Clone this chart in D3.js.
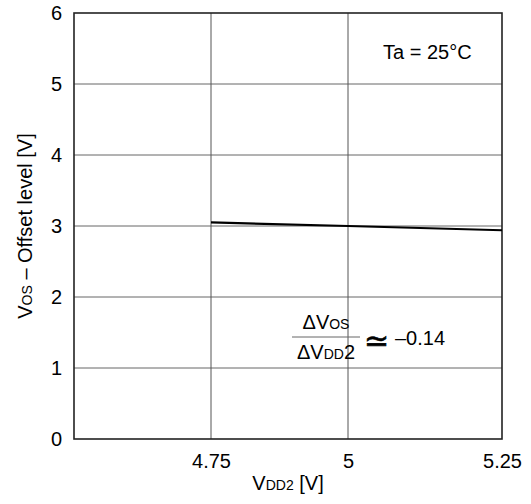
<!DOCTYPE html>
<html><head><meta charset="utf-8">
<script src="https://cdn.jsdelivr.net/npm/d3@7"></script>
<style>body{margin:0;background:#fff}svg{display:block}text{font-family:"Liberation Sans",Arial,sans-serif;fill:#000}</style>
</head><body><svg id="c" width="531" height="504"></svg>
<script>
const xVals = [4.75, 5.0, 5.25];
const yVals = [3.05, 3.0, 2.94];
const xTicks = [4.75, 5, 5.25];
const xTickLabels = ["4.75", "5", "5.25"];
const yTicks = [0, 1, 2, 3, 4, 5, 6];

const svg = d3.select("#c");
const L = 74, R = 502, T = 13, B = 439;
const FONT = "Liberation Sans, Arial, sans-serif";
const x = d3.scaleLinear().domain([4.5, 5.0, 5.25]).range([L, 348, R]);
const y = d3.scaleLinear().domain([0, 6]).range([B, T]);

// grid
svg.append("g").selectAll("line").data(yTicks.slice(1, -1)).join("line")
  .attr("x1", L).attr("x2", R).attr("y1", d => y(d)).attr("y2", d => y(d))
  .attr("stroke", "#666").attr("stroke-width", 1);
svg.append("g").selectAll("line").data(xTicks.slice(0, -1)).join("line")
  .attr("y1", T).attr("y2", B).attr("x1", d => x(d)).attr("x2", d => x(d))
  .attr("stroke", "#555").attr("stroke-width", 1);

// frame
svg.append("rect").attr("x", L).attr("y", T).attr("width", R - L).attr("height", B - T)
  .attr("fill", "none").attr("stroke", "#222").attr("stroke-width", 1.6);

// axes labels via d3 axes
const ya = svg.append("g").attr("transform", `translate(${L},0)`)
  .call(d3.axisLeft(y).tickValues(yTicks).tickSize(0).tickPadding(12).tickFormat(d3.format("d")));
ya.select(".domain").remove();
ya.selectAll("text").attr("font-size", 20).attr("font-family", FONT).attr("fill", "#000").attr("dy", "0.33em");

const xa = svg.append("g").attr("transform", `translate(0,${B})`)
  .call(d3.axisBottom(x).tickValues(xTicks).tickSize(0).tickPadding(15).tickFormat((d, i) => xTickLabels[i]));
xa.select(".domain").remove();
xa.selectAll("text").attr("font-size", 20).attr("font-family", FONT).attr("fill", "#000");

// data line
svg.append("path").datum(xVals.map((v, i) => [v, yVals[i]]))
  .attr("d", d3.line().x(d => x(d[0])).y(d => y(d[1])))
  .attr("fill", "none").attr("stroke", "#000").attr("stroke-width", 2.2);

// axis titles
const xt = svg.append("text").attr("x", (L + R) / 2).attr("y", 490).attr("text-anchor", "middle").attr("font-size", 20);
xt.append("tspan").text("V");
xt.append("tspan").attr("font-size", 14).text("DD2");
xt.append("tspan").text(" [V]");

const yt = svg.append("text").attr("transform", `translate(32,${(T + B) / 2}) rotate(-90)`).attr("text-anchor", "middle").attr("font-size", 20);
yt.append("tspan").text("V");
yt.append("tspan").attr("font-size", 14).text("OS");
yt.append("tspan").text(" – Offset level [V]");

// Ta label
svg.append("text").attr("x", 383).attr("y", 59).attr("font-size", 20).text("Ta = 25°C");

// annotation fraction
const num = svg.append("text").attr("x", 326).attr("y", 329).attr("text-anchor", "middle").attr("font-size", 20);
num.append("tspan").text("ΔV");
num.append("tspan").attr("font-size", 14).text("OS");
svg.append("line").attr("x1", 292).attr("x2", 360).attr("y1", 337).attr("y2", 337).attr("stroke", "#666").attr("stroke-width", 1);
const den = svg.append("text").attr("x", 326).attr("y", 359).attr("text-anchor", "middle").attr("font-size", 20);
den.append("tspan").text("ΔV");
den.append("tspan").attr("font-size", 14).text("DD");
den.append("tspan").text("2");
svg.append("text").attr("x", 364).attr("y", 351).attr("font-size", 30).attr("font-family", "DejaVu Sans")
  .attr("stroke", "#000").attr("stroke-width", 0.6).text("≃");
svg.append("text").attr("x", 395).attr("y", 345).attr("font-size", 20).text("–0.14");
</script></body></html>
